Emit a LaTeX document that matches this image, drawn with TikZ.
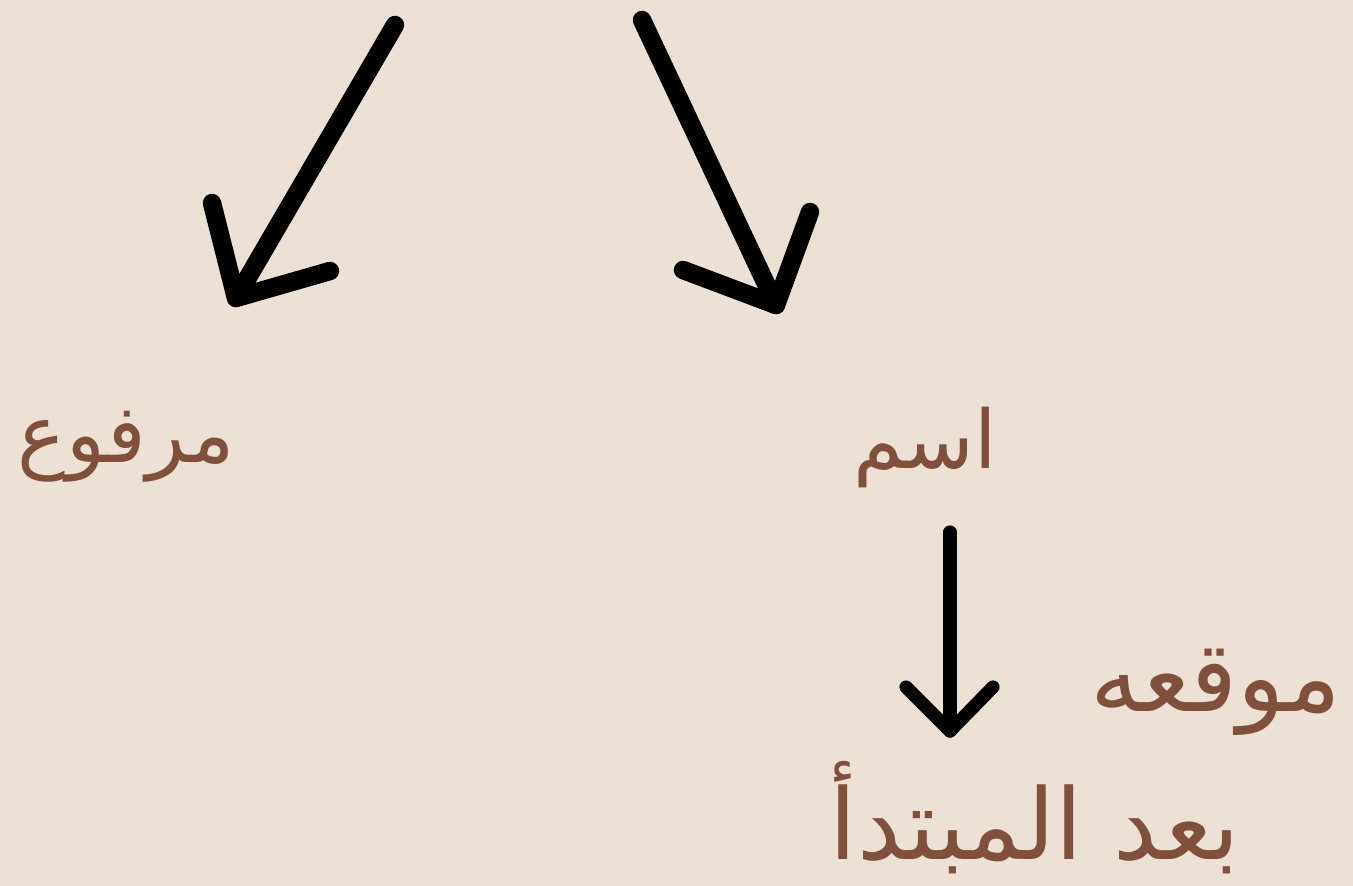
\documentclass[tikz,border=0pt]{standalone}
\usepackage{fontspec}
\newfontfamily\arabicfont[Script=Arabic]{DejaVu Sans}
\TeXXeTstate=1
\definecolor{bgc}{RGB}{237,224,212}
\definecolor{txtc}{RGB}{128,80,60}
\begin{document}
\begin{tikzpicture}[x=0.02cm,y=-0.02cm,
  lbl/.style={text=txtc,font=\arabicfont\fontsize{46}{56}\selectfont,inner sep=0pt},
  lblbig/.style={text=txtc,font=\arabicfont\fontsize{56}{66}\selectfont,inner sep=0pt},
  thickarrow/.style={line width=10.5pt,line cap=round,line join=round,black},
  thinarrow/.style={line width=7.5pt,line cap=round,line join=round,black}]
\fill[bgc] (0,0) rectangle (1353,886);
\useasboundingbox (0,0) rectangle (1353,886);
% labels
\node[lbl] (marfu) at (126,447) {\beginR مرفوع\endR};
\node[lbl] (ism) at (925,447) {\beginR اسم\endR};
\node[lblbig] (mawqi) at (1216,692) {\beginR موقعه\endR};
\node[lblbig] (bad) at (1035,818) {\beginR بعد المبتدأ\endR};
% arrow 1
\coordinate (a1s) at (395,25);
\coordinate (a1e) at (236,298);
\coordinate (a1l) at (212,203);
\coordinate (a1r) at (330,271);
\draw[thickarrow] (a1s) -- (a1e);
\draw[thickarrow] (a1l) -- (a1e) -- (a1r);
% arrow 2
\coordinate (a2s) at (642,20);
\coordinate (a2e) at (776,305);
\coordinate (a2l) at (683,270);
\coordinate (a2r) at (810,212);
\draw[thickarrow] (a2s) -- (a2e);
\draw[thickarrow] (a2l) -- (a2e) -- (a2r);
% arrow 3
\coordinate (a3s) at (950,532);
\coordinate (a3e) at (950,731);
\coordinate (a3l) at (906,687);
\coordinate (a3r) at (993,687);
\draw[thinarrow] (a3s) -- (a3e);
\draw[thinarrow] (a3l) -- (a3e) -- (a3r);
\end{tikzpicture}
\end{document}
